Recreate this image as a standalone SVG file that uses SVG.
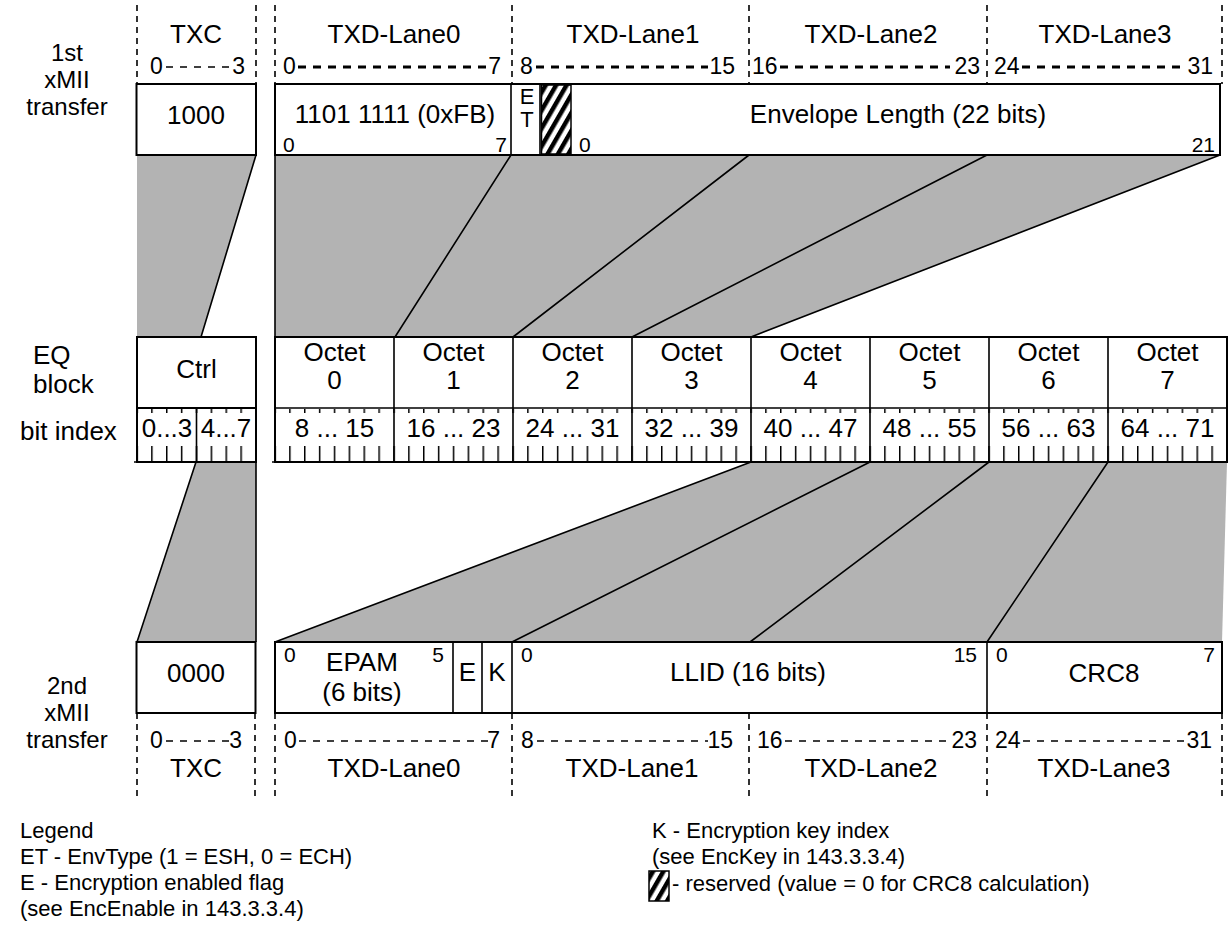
<svg xmlns="http://www.w3.org/2000/svg" width="1230" height="931" viewBox="0 0 1230 931">
<style>
text{font-family:"Liberation Sans",Arial,sans-serif;font-size:26px;fill:#000}
.m{text-anchor:middle}
.e{text-anchor:end}
.s{font-size:21px}
.r{font-size:23px}
.lg{font-size:22px}
.lb{font-size:24px}
.box{fill:#fff;stroke:#000;stroke-width:2}
.ln{stroke:#000;stroke-width:1.6;fill:none}
.dv{stroke:#000;stroke-width:1.6;stroke-dasharray:6 5;fill:none}
.thk{stroke:#000;stroke-width:3;stroke-dasharray:8 7;fill:none}
.thn{stroke:#000;stroke-width:1.4;stroke-dasharray:7 7;fill:none}
.gray{fill:#b3b3b3;stroke:none}
</style>
<defs>
<pattern id="hatch" patternUnits="userSpaceOnUse" width="9" height="9" patternTransform="rotate(30)">
<rect width="9" height="9" fill="#fff"/>
<rect width="4.5" height="9" fill="#000"/>
</pattern>
<pattern id="ticksA" patternUnits="userSpaceOnUse" x="274.25" y="408" width="14.875" height="54">
<rect x="0" y="0" width="1.5" height="5" fill="#000"/>
<rect x="0" y="38" width="1.5" height="16" fill="#000"/>
</pattern>
<pattern id="ticksB" patternUnits="userSpaceOnUse" x="136.25" y="408" width="14.875" height="54">
<rect x="0" y="0" width="1.5" height="5" fill="#000"/>
<rect x="0" y="38" width="1.5" height="16" fill="#000"/>
</pattern>
</defs>
<rect width="1230" height="931" fill="#fff"/>

<!-- row labels -->
<g id="labels">
<text class="m lb" x="67" y="61">1st</text>
<text class="m lb" x="67" y="88">xMII</text>
<text class="m lb" x="67" y="115">transfer</text>
<text x="33" y="363.5">EQ</text>
<text x="33" y="393">block</text>
<text x="20" y="440">bit index</text>
<text class="m lb" x="67" y="693.5">2nd</text>
<text class="m lb" x="67" y="720.5">xMII</text>
<text class="m lb" x="67" y="747.5">transfer</text>
</g>

<!-- top lane headers -->
<g id="top-lanes">
<path class="dv" d="M137,5V84M256,5V84M275,5V84M512,5V84M749,5V84M987,5V84M1222,5V84"/>
<text class="m" x="196" y="43">TXC</text>
<text class="m" x="394" y="43">TXD-Lane0</text>
<text class="m" x="633" y="43">TXD-Lane1</text>
<text class="m" x="871" y="43">TXD-Lane2</text>
<text class="m" x="1105" y="43">TXD-Lane3</text>
<text class="r" x="150" y="74">0</text>
<path class="thn" d="M166,67H232"/>
<text class="r e" x="245" y="74">3</text>
<text class="r" x="283" y="74">0</text>
<path class="thk" d="M298,67H486"/>
<text class="r e" x="501" y="74">7</text>
<text class="r" x="520" y="74">8</text>
<path class="thk" d="M536,67H708"/>
<text class="r e" x="735" y="74">15</text>
<text class="r" x="752" y="74">16</text>
<path class="thk" d="M780,67H950"/>
<text class="r e" x="980" y="74">23</text>
<text class="r" x="994" y="74">24</text>
<path class="thk" d="M1022,67H1186"/>
<text class="r e" x="1213" y="74">31</text>
</g>

<!-- connectors: gray mapping regions -->
<g id="connectors">
<polygon class="gray" points="137,155 256,155 201,337 137,337"/>
<polygon class="gray" points="275,155 1220,155 751,337 275,337"/>
<polygon class="gray" points="196,462 256,462 256,642 137,642"/>
<polygon class="gray" points="751,462 1227,462 1222,642 275,642"/>
<path class="ln" d="M256,155L201,337M275,155V337M511,155L395,337M749,155L513,337M987,155L632,337M1220,155L751,337"/>
<path class="ln" d="M196,462L137,642M256,462V642M751,462L275,642M870,462L512,642M989,462L750,642M1108,462L987,642"/>
</g>

<!-- 1st xMII transfer -->
<g id="xmii1-txc">
<rect class="box" x="136.5" y="84" width="119.5" height="71"/>
<text class="m" x="196" y="124">1000</text>
</g>
<g id="xmii1-data">
<rect class="box" x="275" y="84" width="945" height="71"/>
<text class="m" x="395" y="123">1101 1111 (0xFB)</text>
<text class="s" x="283" y="152">0</text>
<text class="s e" x="507" y="152">7</text>
<path class="ln" d="M511,84V155M540,84V155"/>
<text class="m lg" x="527" y="104">E</text>
<text class="m lg" x="527" y="127">T</text>
<rect x="541.5" y="85" width="29.5" height="69" fill="url(#hatch)" stroke="#000" stroke-width="1.5"/>
<text class="s" x="579" y="152">0</text>
<text class="m" x="898" y="123">Envelope Length (22 bits)</text>
<text class="s e" x="1215" y="152">21</text>
</g>

<!-- EQ block -->
<g id="eq-ctrl">
<rect class="box" x="137" y="337" width="119" height="71"/>
<text class="m" x="196.5" y="378">Ctrl</text>
<rect class="box" x="137" y="408" width="119" height="54"/>
<rect x="137" y="409" width="119" height="52" fill="url(#ticksB)"/>
<path class="ln" d="M196.5,408V462M134,462H256"/>
<text class="m" x="167" y="437">0...3</text>
<text class="m" x="226" y="437">4...7</text>
</g>
<g id="eq-octets">
<rect class="box" x="275" y="337" width="952" height="125"/>
<path class="ln" d="M275,408H1227"/>
<rect x="275" y="409" width="952" height="52" fill="url(#ticksA)"/>
<path class="ln" d="M272,462H1227"/>
<path class="ln" d="M394,337V462M513,337V462M632,337V462M751,337V462M870,337V462M989,337V462M1108,337V462" stroke-width="2"/>
</g>
<g id="octet0"><text class="m" x="334.5" y="361">Octet</text><text class="m" x="334.5" y="389">0</text><text class="m" x="334.5" y="437">8 ... 15</text></g>
<g id="octet1"><text class="m" x="453.5" y="361">Octet</text><text class="m" x="453.5" y="389">1</text><text class="m" x="453.5" y="437">16 ... 23</text></g>
<g id="octet2"><text class="m" x="572.5" y="361">Octet</text><text class="m" x="572.5" y="389">2</text><text class="m" x="572.5" y="437">24 ... 31</text></g>
<g id="octet3"><text class="m" x="691.5" y="361">Octet</text><text class="m" x="691.5" y="389">3</text><text class="m" x="691.5" y="437">32 ... 39</text></g>
<g id="octet4"><text class="m" x="810.5" y="361">Octet</text><text class="m" x="810.5" y="389">4</text><text class="m" x="810.5" y="437">40 ... 47</text></g>
<g id="octet5"><text class="m" x="929.5" y="361">Octet</text><text class="m" x="929.5" y="389">5</text><text class="m" x="929.5" y="437">48 ... 55</text></g>
<g id="octet6"><text class="m" x="1048.5" y="361">Octet</text><text class="m" x="1048.5" y="389">6</text><text class="m" x="1048.5" y="437">56 ... 63</text></g>
<g id="octet7"><text class="m" x="1167.5" y="361">Octet</text><text class="m" x="1167.5" y="389">7</text><text class="m" x="1167.5" y="437">64 ... 71</text></g>

<!-- 2nd xMII transfer -->
<g id="xmii2-txc">
<rect class="box" x="136.5" y="642" width="119" height="71"/>
<text class="m" x="196" y="682">0000</text>
</g>
<g id="xmii2-data">
<rect class="box" x="275" y="642" width="947" height="71"/>
<text class="s" x="284" y="662">0</text>
<text class="m" x="362" y="671">EPAM</text>
<text class="m" x="362" y="700.5">(6 bits)</text>
<text class="s e" x="444" y="662">5</text>
<path class="ln" d="M453,642V713M482,642V713M512,642V713M987,642V713"/>
<text class="m" x="467.5" y="681">E</text>
<text class="m" x="497" y="681">K</text>
<text class="s" x="521" y="662">0</text>
<text class="m" x="748" y="681">LLID (16 bits)</text>
<text class="s e" x="977" y="662">15</text>
<text class="s" x="996" y="662">0</text>
<text class="s e" x="1215" y="662">7</text>
<text class="m" x="1104" y="682">CRC8</text>
</g>

<!-- bottom lane footers -->
<g id="bottom-lanes">
<path class="dv" d="M137,713V800M255,713V800M275,713V800M512,713V800M749,713V800M987,713V800M1222,713V800"/>
<text class="r" x="150" y="748">0</text>
<path class="thn" d="M166,741H232"/>
<text class="r e" x="242" y="748">3</text>
<text class="r" x="284" y="748">0</text>
<path class="thn" d="M299,741H488"/>
<text class="r e" x="500" y="748">7</text>
<text class="r" x="521" y="748">8</text>
<path class="thn" d="M537,741H708"/>
<text class="r e" x="733" y="748">15</text>
<text class="r" x="757" y="748">16</text>
<path class="thn" d="M785,741H950"/>
<text class="r e" x="977" y="748">23</text>
<text class="r" x="995" y="748">24</text>
<path class="thn" d="M1023,741H1186"/>
<text class="r e" x="1212" y="748">31</text>
<text class="m" x="196" y="777">TXC</text>
<text class="m" x="394" y="777">TXD-Lane0</text>
<text class="m" x="632" y="777">TXD-Lane1</text>
<text class="m" x="871" y="777">TXD-Lane2</text>
<text class="m" x="1104" y="777">TXD-Lane3</text>
</g>

<!-- legend -->
<g id="legend">
<text class="lg" x="20" y="838">Legend</text>
<text class="lg" x="20" y="864">ET - EnvType (1 = ESH, 0 = ECH)</text>
<text class="lg" x="20" y="890">E - Encryption enabled flag</text>
<text class="lg" x="20" y="916">(see EncEnable in 143.3.3.4)</text>
<text class="lg" x="652" y="838">K - Encryption key index</text>
<text class="lg" x="652" y="864">(see EncKey in 143.3.3.4)</text>
<rect x="649" y="871" width="20" height="30" fill="url(#hatch)" stroke="#000" stroke-width="1.5"/>
<text class="lg" x="672" y="891">- reserved (value = 0 for CRC8 calculation)</text>
</g>
</svg>
